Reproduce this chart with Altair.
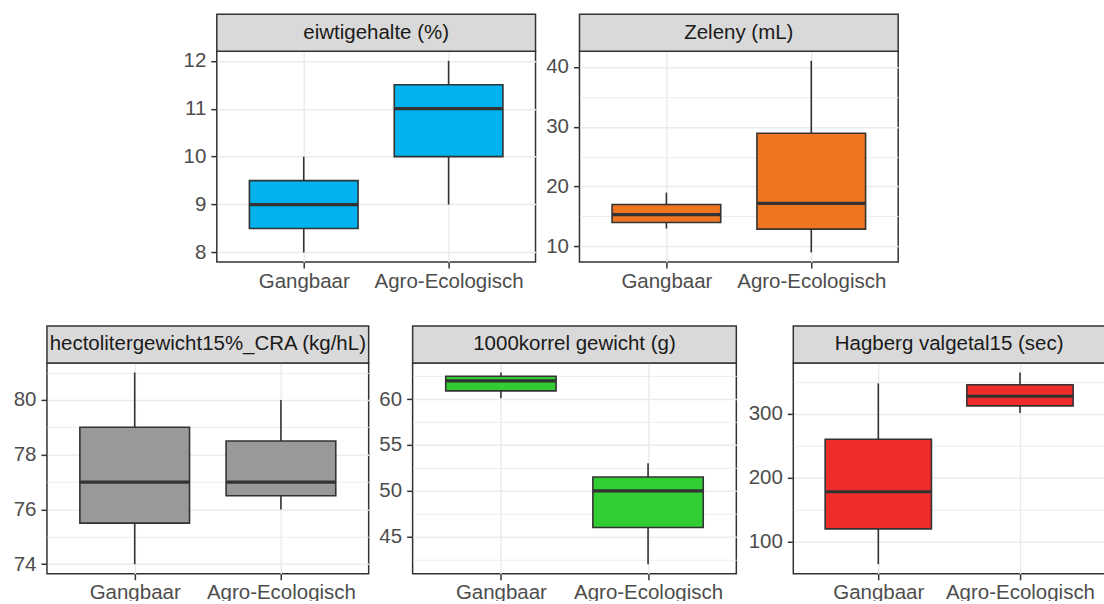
import altair as alt
import pandas as pd

groups = ["Gangbaar", "Agro-Ecologisch"]

# five-number summaries (min, Q1, median, Q3, max) per group
eiwit_gangbaar = [8.0, 8.5, 9.0, 9.5, 10.0]
eiwit_agro = [9.0, 10.0, 11.0, 11.5, 12.0]
zeleny_gangbaar = [13.0, 14.0, 15.3, 17.0, 19.0]
zeleny_agro = [9.0, 12.9, 17.2, 28.9, 41.0]
hl_gangbaar = [74.0, 75.5, 77.0, 79.0, 81.0]
hl_agro = [76.0, 76.5, 77.0, 78.5, 80.0]
tkg_gangbaar = [60.1, 60.9, 62.0, 62.5, 62.9]
tkg_agro = [42.0, 46.0, 50.0, 51.5, 53.0]
hagberg_gangbaar = [65.0, 120.0, 178.0, 260.0, 347.0]
hagberg_agro = [301.0, 312.0, 327.0, 345.0, 364.0]

# major y ticks per panel
eiwit_ticks = [8, 9, 10, 11, 12]
zeleny_ticks = [10, 20, 30, 40]
hl_ticks = [74, 76, 78, 80]
tkg_ticks = [45, 50, 55, 60]
hagberg_ticks = [100, 200, 300]

titles = [
    "eiwtigehalte (%)",
    "Zeleny (mL)",
    "hectolitergewicht15%_CRA (kg/hL)",
    "1000korrel gewicht (g)",
    "Hagberg valgetal15 (sec)",
]
fills = ["#00B2EE", "#EE7621", "#999999", "#32CD32", "#EE2C2C"]

FONT = "Liberation Sans"
FONT_SIZE = 20.5
LINE = "#333333"
PANEL_H = 211
STRIP_H = 37
BOX_W = 0.75


def panel(title, fill, stats, ticks, width):
    rows = []
    for i, (g, s) in enumerate(zip(groups, stats)):
        pos = i + 1
        rows.append(dict(group=g, pos=pos, x0=pos - BOX_W / 2, x1=pos + BOX_W / 2,
                         lo=s[0], q1=s[1], med=s[2], q3=s[3], hi=s[4]))
    df = pd.DataFrame(rows)

    # 5% expansion around the whisker range, major + minor grid values
    lo = min(s[0] for s in stats)
    hi = max(s[4] for s in stats)
    pad = 0.05 * (hi - lo)
    dom = [lo - pad, hi + pad]
    step = ticks[1] - ticks[0]
    minors = [t + step / 2 for t in [ticks[0] - step] + ticks
              if dom[0] <= t + step / 2 <= dom[1]]
    vals = sorted(ticks + minors)
    is_major = f"indexof({ticks}, datum.value) >= 0"

    yscale = alt.Scale(domain=dom, nice=False, zero=False)
    xscale = alt.Scale(domain=[0.4, 2.6], nice=False, zero=False)
    label_map = " : ".join(f"datum.value == {i + 1} ? '{g}'" for i, g in enumerate(groups)) + " : ''"
    yaxis = alt.Axis(
        values=vals, title=None, format="d",
        labelExpr=f"{is_major} ? datum.label : ''",
        tickOpacity={"condition": {"test": is_major, "value": 1}, "value": 0},
        gridWidth={"condition": {"test": is_major, "value": 1.5}, "value": 0.9},
    )
    xaxis = alt.Axis(values=[1, 2], title=None, labelExpr=label_map, gridWidth=1.5)

    X = lambda f: alt.X(f, scale=xscale, axis=xaxis)
    Y = lambda f: alt.Y(f, scale=yscale, axis=yaxis)

    base = alt.Chart(df)
    whisker = base.mark_rule(color=LINE, strokeWidth=1.6).encode(
        x=X("pos:Q"), y=Y("lo:Q"), y2="hi:Q")
    box = base.mark_bar(fill=fill, stroke=LINE, strokeWidth=1.6).encode(
        x=X("x0:Q"), x2="x1:Q", y=Y("q1:Q"), y2="q3:Q")
    median = base.mark_rule(color=LINE, strokeWidth=3.2).encode(
        x=X("x0:Q"), x2="x1:Q", y=Y("med:Q"))

    # facet strip above the panel
    strip_df = pd.DataFrame({"label": [title]})
    strip = alt.Chart(strip_df).mark_rect(
        fill="#D9D9D9", stroke=LINE, strokeWidth=1.5).encode(
        x=alt.value(0), x2=alt.value(width),
        y=alt.value(-STRIP_H), y2=alt.value(0))
    strip_text = alt.Chart(strip_df).mark_text(
        font=FONT, fontSize=FONT_SIZE, color="#1A1A1A", baseline="middle", align="center").encode(
        x=alt.value(width / 2), y=alt.value(-STRIP_H / 2), text="label:N")

    return alt.layer(whisker, box, median, strip, strip_text).properties(
        width=width, height=PANEL_H)


p1 = panel(titles[0], fills[0], [eiwit_gangbaar, eiwit_agro], eiwit_ticks, 319)
p2 = panel(titles[1], fills[1], [zeleny_gangbaar, zeleny_agro], zeleny_ticks, 319)
p3 = panel(titles[2], fills[2], [hl_gangbaar, hl_agro], hl_ticks, 322)
p4 = panel(titles[3], fills[3], [tkg_gangbaar, tkg_agro], tkg_ticks, 324)
p5 = panel(titles[4], fills[4], [hagberg_gangbaar, hagberg_agro], hagberg_ticks, 312)

spacer = alt.Chart(pd.DataFrame({"v": [0]})).mark_rect(opacity=0).encode(
    x=alt.value(0), y=alt.value(0)).properties(
    width=127, height=PANEL_H, view=alt.ViewBackground(stroke="transparent"))

top = alt.hconcat(spacer, p1, p2, spacing=7)
bottom = alt.hconcat(alt.hconcat(p3, p4, spacing=7), p5, spacing=9)

chart = alt.vconcat(top, bottom, spacing=31).properties(
    padding={"left": 12, "top": 12, "right": -3, "bottom": -4},
    background="white",
).configure_view(
    stroke=LINE, strokeWidth=1.5,
).configure_axis(
    domain=False,
    labelFont=FONT, labelFontSize=FONT_SIZE, labelColor="#4D4D4D",
    tickColor=LINE, tickWidth=1.5, tickSize=6, labelPadding=5,
    gridColor="#EBEBEB",
).configure_axisX(
    labelPadding=3,
)

chart.save("out.html", embed_options={"renderer": "svg", "actions": False})
